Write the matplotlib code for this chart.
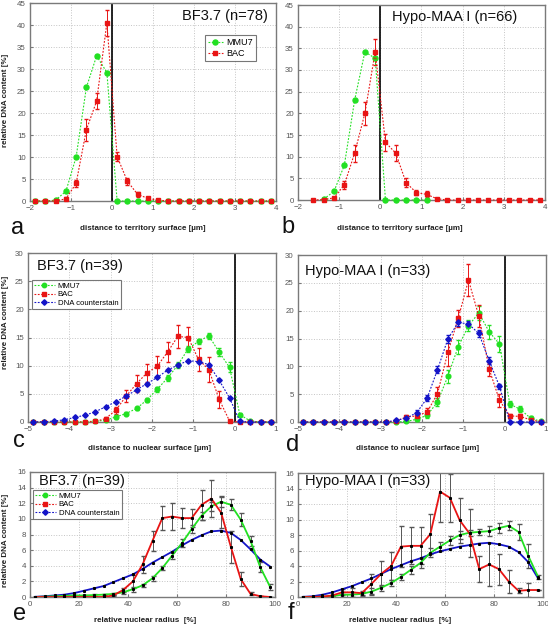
import numpy as np
import matplotlib
matplotlib.use("Agg")
import matplotlib.pyplot as plt
from matplotlib.lines import Line2D

plt.rcParams['font.family'] = ['Liberation Sans', 'DejaVu Sans']

W, H = 548, 625

# ---- data ----
# a: distance to territory surface, BF3.7 (n=78)
dist_a = [-1.875, -1.625, -1.375, -1.125, -0.875, -0.625, -0.375, -0.125,
          0.125, 0.375, 0.625, 0.875, 1.125, 1.375, 1.625, 1.875,
          2.125, 2.375, 2.625, 2.875, 3.125, 3.375, 3.625, 3.875]
mmu7_a = [0, 0, 0.2, 2.2, 10, 25.8, 33, 29.2, 0, 0, 0, 0,
          0, 0, 0, 0, 0, 0, 0, 0, 0, 0, 0, 0]
bac_a = [0, 0, 0, 0.5, 4, 16.2, 22.7, 40.5, 10.1, 4.5, 1.5, 0.6,
         0.2, 0, 0, 0, 0, 0, 0, 0, 0, 0, 0, 0]
bac_a_err = [0, 0, 0, 0.3, 0.8, 2.5, 1.8, 3.0, 1.0, 0.8, 0.5, 0.3,
             0.1, 0, 0, 0, 0, 0, 0, 0, 0, 0, 0, 0]

# b: distance to territory surface, Hypo-MAA I (n=66)
dist_b = [-1.625, -1.375, -1.125, -0.875, -0.625, -0.375, -0.125,
          0.125, 0.375, 0.625, 0.875, 1.125, 1.375, 1.625, 1.875,
          2.125, 2.375, 2.625, 2.875, 3.125, 3.375, 3.625, 3.875]
mmu7_b = [np.nan, 0.2, 2.0, 8.0, 23.0, 34.2, 32.7, 0, 0, 0, 0, 0,
          np.nan, np.nan, np.nan, np.nan, np.nan, np.nan, np.nan, np.nan, np.nan, np.nan, np.nan]
bac_b = [0, 0.1, 0.5, 3.5, 10.8, 20.0, 34.2, 13.3, 10.8, 4.0, 1.7, 1.3,
         0.3, 0, 0, 0, 0, 0, 0, 0, 0, 0, 0]
bac_b_err = [0, 0, 0.3, 1.0, 2.0, 2.7, 3.0, 2.0, 1.8, 1.0, 0.6, 0.7,
             0.2, 0, 0, 0, 0, 0, 0, 0, 0, 0, 0]

# c, d: distance to nuclear surface
dist_cd = [-4.875, -4.625, -4.375, -4.125, -3.875, -3.625, -3.375, -3.125,
           -2.875, -2.625, -2.375, -2.125, -1.875, -1.625, -1.375, -1.125,
           -0.875, -0.625, -0.375, -0.125, 0.125, 0.375, 0.625, 0.875]
mmu7_c = [0, 0, 0, 0, 0, 0.05, 0.15, 0.3, 0.9, 1.5, 2.4, 3.9,
          5.8, 7.8, 10.1, 13.0, 14.3, 15.3, 12.4, 9.7, 1.3, 0.2, 0, 0]
mmu7_c_err = [0, 0, 0, 0, 0, 0, 0, 0.1, 0.3, 0.3, 0.3, 0.4,
              0.4, 0.5, 0.5, 0.5, 0.5, 0.5, 0.7, 0.9, 0.3, 0.1, 0, 0]
bac_c = [0, 0, 0, 0, 0, 0, 0.1, 0.6, 2.1, 4.6, 6.8, 8.7,
         9.9, 12.4, 15.2, 15.0, 11.1, 9.3, 4.0, 0.2, 0, 0, 0, 0]
bac_c_err = [0, 0, 0, 0, 0, 0, 0.1, 0.3, 0.6, 1.0, 1.5, 1.6,
             1.8, 1.8, 2.0, 1.8, 2.0, 2.2, 1.5, 0.2, 0, 0, 0, 0]
dna_c = [0, 0.05, 0.15, 0.4, 0.8, 1.2, 1.8, 2.7, 3.6, 4.6, 5.7, 6.8,
         7.9, 9.2, 10.1, 10.9, 10.7, 10.2, 7.4, 4.3, 0.1, 0, 0, 0]

mmu7_d = [0, 0, 0, 0, 0, 0, 0, 0, 0, 0, 0.1, 0.5,
          1.2, 3.6, 8.2, 13.5, 17.3, 19.6, 16.2, 14.0, 3.2, 2.3, 0.7, 0.1]
mmu7_d_err = [0, 0, 0, 0, 0, 0, 0, 0, 0, 0, 0.1, 0.3,
              0.5, 0.8, 1.2, 1.2, 1.0, 1.3, 1.2, 1.5, 0.5, 0.5, 0.3, 0.1]
bac_d = [0, 0, 0, 0, 0, 0, 0, 0, 0, 0.2, 0.9, 1.1,
         1.8, 5.1, 12.5, 18.6, 25.5, 19.0, 9.5, 3.9, 1.1, 1.0, 0.4, 0]
bac_d_err = [0, 0, 0, 0, 0, 0, 0, 0, 0, 0.2, 0.4, 0.5,
             0.8, 1.2, 2.5, 1.5, 2.8, 2.0, 1.3, 1.2, 0.4, 0.4, 0.2, 0]
dna_d = [0, 0, 0, 0, 0, 0, 0, 0, 0, 0.3, 0.7, 1.7,
         4.3, 9.4, 14.9, 17.9, 17.6, 15.9, 11.0, 6.4, 0, 0, 0, 0]
dna_d_err = [0, 0, 0, 0, 0, 0, 0, 0, 0, 0.1, 0.2, 0.4,
             0.5, 0.6, 0.7, 0.6, 0.6, 0.6, 0.6, 0.5, 0, 0, 0, 0]

# e, f: relative nuclear radius
radius = [2, 6, 10, 14, 18, 22, 26, 30, 34, 38, 42, 46, 50,
          54, 58, 62, 66, 70, 74, 78, 82, 86, 90, 94, 98]
mmu7_e = [0, 0.05, 0.1, 0.15, 0.2, 0.2, 0.25, 0.3, 0.4, 0.6, 1.0, 1.5, 2.4,
          3.7, 5.3, 6.9, 8.7, 10.4, 11.6, 12.2, 11.8, 9.9, 7.2, 3.8, 1.3]
mmu7_e_err = [0, 0, 0, 0.05, 0.1, 0.1, 0.1, 0.1, 0.15, 0.2, 0.3, 0.2, 0.3,
              0.3, 0.4, 0.5, 0.5, 0.5, 0.6, 0.7, 0.7, 0.8, 0.65, 0.65, 0.35]
bac_e = [0, 0, 0, 0, 0, 0, 0, 0, 0.2, 0.9, 2.0, 4.2, 7.2,
         10.1, 10.3, 10.1, 10.1, 11.8, 12.6, 10.8, 6.4, 2.3, 0.4, 0.1, 0]
bac_e_err = [0, 0, 0, 0, 0, 0, 0, 0, 0.1, 0.3, 0.8, 1.1, 1.3,
             1.5, 1.7, 1.3, 1.2, 1.9, 2.4, 2.0, 2.0, 0.85, 0.2, 0, 0]
dna_e = [0.02, 0.1, 0.2, 0.3, 0.5, 0.8, 1.1, 1.4, 1.9, 2.4, 2.9, 3.6, 4.4,
         5.1, 5.8, 6.6, 7.3, 7.9, 8.4, 8.5, 8.2, 7.3, 6.1, 4.8, 3.9]

mmu7_f = [0, 0, 0.05, 0.1, 0.3, 0.3, 0.4, 0.7, 1.2, 1.8, 2.6, 3.5, 4.4,
          5.7, 6.5, 7.3, 8.0, 8.3, 8.4, 8.5, 8.9, 9.2, 8.4, 5.3, 2.6]
mmu7_f_err = [0, 0, 0, 0.05, 0.3, 0.3, 0.3, 0.4, 0.4, 0.4, 0.4, 0.5, 0.6,
              0.6, 0.6, 0.6, 0.5, 0.4, 0.4, 0.6, 0.6, 0.6, 1.0, 1.5, 0.3]
bac_f = [0, 0, 0.05, 0.2, 0.6, 0.6, 0.5, 1.7, 3.0, 4.0, 6.5, 6.6, 6.6,
         8.1, 13.6, 12.8, 9.9, 8.2, 3.6, 4.2, 3.6, 2.0, 0.8, 0.9, 0.9]
bac_f_err = [0, 0, 0, 0.1, 0.4, 0.6, 0.3, 1.3, 1.6, 1.8, 2.6, 2.4, 2.4,
             2.6, 3.9, 3.1, 2.9, 3.1, 1.7, 2.8, 2.0, 1.5, 0.3, 0.9, 0]
dna_f = [0.02, 0.1, 0.3, 0.6, 1.0, 1.4, 1.9, 2.4, 3.0, 3.6, 4.1, 4.6, 5.0,
         5.5, 5.9, 6.2, 6.5, 6.7, 6.9, 7.0, 6.8, 6.5, 5.8, 4.5, 2.4]

GREEN = '#22e022'
RED = '#e81414'
BLUE = '#1414c8'
DOTS = (0, (1.6, 1.4))


def ax_px(l, t, r, b):
    return fig.add_axes([l / W, 1 - b / H, (r - l) / W, (b - t) / H])


def ftext(x, y, s, **kw):
    fig.text(x / W, 1 - y / H, s, **kw)


def style(ax, xlim, xticks, ylim, yticks):
    ax.set_xlim(*xlim)
    ax.set_ylim(*ylim)
    ax.set_xticks(xticks)
    ax.set_yticks(yticks)
    ax.grid(True, color='#c4c4c4', ls=':', lw=0.7)
    ax.set_axisbelow(True)
    for s in ax.spines.values():
        s.set_color('#7a7a7a')
        s.set_linewidth(1.0)
    ax.tick_params(labelsize=5.7, labelcolor='#555555', direction='in',
                   length=2.5, color='#7a7a7a', pad=3)


def dotted(ax, x, y, err, color, marker, ms):
    ax.errorbar(x, y, yerr=err, color=color, ls=DOTS, lw=0.8, marker=marker,
                ms=ms, mec=color, mfc=color, capsize=1.5, elinewidth=0.7,
                clip_on=False, zorder=3)


def solid(ax, x, y, err, color):
    ax.plot(x, y, color=color, lw=1.3, zorder=3)
    ax.plot(x, y, ls='none', marker='s', ms=1.2, mfc='k', mec='k', zorder=4)
    if err is not None:
        ax.errorbar(x, y, yerr=err, fmt='none', ecolor='#555555',
                    elinewidth=0.7, capsize=1.8, zorder=2)


fig = plt.figure(figsize=(W / 100, H / 100), dpi=100)

# ---- a ----
ax = ax_px(30, 3, 276, 201)
style(ax, (-2, 4), range(-2, 5), (0, 45), range(0, 46, 5))
dotted(ax, dist_a, mmu7_a, None, GREEN, 'o', 3.6)
dotted(ax, dist_a, bac_a, bac_a_err, RED, 's', 3.4)
ax.axvline(0, color='k', lw=1.2, zorder=2)
ax.legend(handles=[Line2D([], [], color=GREEN, ls=DOTS, lw=0.8, marker='o', ms=3.6),
                   Line2D([], [], color=RED, ls=DOTS, lw=0.8, marker='s', ms=3.4)],
          labels=['MMU7', 'BAC'], loc='upper left',
          bbox_to_anchor=(205 / W, 1 - 35 / H), bbox_transform=fig.transFigure,
          fontsize=6.5, frameon=True, fancybox=False, edgecolor='#555555',
          handlelength=1.6, handletextpad=0.4, borderpad=0.35, labelspacing=0.2,
          borderaxespad=0)
ax.get_legend().get_frame().set_linewidth(0.8)

# ---- b ----
ax = ax_px(298, 5, 545, 200)
style(ax, (-2, 4), range(-2, 5), (0, 45), range(0, 46, 5))
dotted(ax, dist_b, mmu7_b, None, GREEN, 'o', 3.6)
dotted(ax, dist_b, bac_b, bac_b_err, RED, 's', 3.4)
ax.axvline(0, color='k', lw=1.2, zorder=2)

# ---- c ----
ax = ax_px(28, 253, 276, 422)
style(ax, (-5, 1), range(-5, 2), (0, 30), range(0, 31, 5))
dotted(ax, dist_cd, mmu7_c, mmu7_c_err, GREEN, 'o', 3.4)
dotted(ax, dist_cd, bac_c, bac_c_err, RED, 's', 3.0)
dotted(ax, dist_cd, dna_c, None, BLUE, 'D', 2.8)
ax.axvline(0, color='k', lw=1.2, zorder=2)
leg_handles = [Line2D([], [], color=GREEN, ls=DOTS, lw=0.8, marker='o', ms=3.2),
               Line2D([], [], color=RED, ls=DOTS, lw=0.8, marker='s', ms=3.0),
               Line2D([], [], color=BLUE, ls=DOTS, lw=0.8, marker='D', ms=2.8)]
leg_labels = ['MMU7', 'BAC', 'DNA counterstain']
lg = ax.legend(handles=leg_handles, labels=leg_labels, loc='upper left',
               bbox_to_anchor=(32 / W, 1 - 280 / H), bbox_transform=fig.transFigure,
               fontsize=5.6, frameon=True, fancybox=False, edgecolor='#555555',
               handlelength=2.6, handletextpad=0.4, borderpad=0.3, labelspacing=0.15,
               borderaxespad=0)
lg.get_frame().set_linewidth(0.8)

# ---- d ----
ax = ax_px(298, 255, 546, 422)
style(ax, (-5, 1), range(-5, 2), (0, 30), range(0, 31, 5))
dotted(ax, dist_cd, mmu7_d, mmu7_d_err, GREEN, 'o', 3.4)
dotted(ax, dist_cd, bac_d, bac_d_err, RED, 's', 3.0)
dotted(ax, dist_cd, dna_d, dna_d_err, BLUE, 'D', 2.8)
ax.axvline(0, color='k', lw=1.2, zorder=2)

# ---- e ----
ax = ax_px(30, 472, 275, 597)
style(ax, (0, 100), range(0, 101, 20), (0, 16), range(0, 17, 2))
solid(ax, radius, dna_e, None, BLUE)
solid(ax, radius, mmu7_e, mmu7_e_err, GREEN)
solid(ax, radius, bac_e, bac_e_err, RED)
lg = ax.legend(handles=leg_handles, labels=leg_labels, loc='upper left',
               bbox_to_anchor=(33 / W, 1 - 490 / H), bbox_transform=fig.transFigure,
               fontsize=5.6, frameon=True, fancybox=False, edgecolor='#555555',
               handlelength=2.6, handletextpad=0.4, borderpad=0.3, labelspacing=0.15,
               borderaxespad=0)
lg.get_frame().set_linewidth(0.8)

# ---- f ----
ax = ax_px(298, 473, 543, 597)
style(ax, (0, 100), range(0, 101, 20), (0, 16), range(0, 17, 2))
solid(ax, radius, dna_f, None, BLUE)
solid(ax, radius, mmu7_f, mmu7_f_err, GREEN)
solid(ax, radius, bac_f, bac_f_err, RED)

# ---- titles ----
tkw = dict(fontsize=10.5, color='#111111', va='center')
ftext(268, 16, 'BF3.7 (n=78)', ha='right', **tkw)
ftext(455, 17, 'Hypo-MAA I (n=66)', ha='center', **tkw)
ftext(37, 266, 'BF3.7 (n=39)', ha='left', **tkw)
ftext(305, 271, 'Hypo-MAA I (n=33)', ha='left', **tkw)
ftext(39, 481, 'BF3.7 (n=39)', ha='left', **tkw)
ftext(305, 481, 'Hypo-MAA I (n=33)', ha='left', **tkw)

# ---- axis labels ----
lkw = dict(fontsize=5.8, fontweight='bold', color='#222222', va='center', ha='center')
ftext(143, 228, 'distance to territory surface [µm]', **lkw)
ftext(400, 228, 'distance to territory surface [µm]', **lkw)
ftext(150, 448, 'distance to nuclear surface [µm]', **lkw)
ftext(418, 448, 'distance to nuclear surface [µm]', **lkw)
ftext(145, 620, 'relative nuclear radius  [%]', **lkw)
ftext(400, 620, 'relative nuclear radius  [%]', **lkw)
ftext(6, 100, 'relative DNA content [%]', rotation=90, **lkw)
ftext(6, 322, 'relative DNA content [%]', rotation=90, **lkw)
ftext(6, 540, 'relative DNA content [%]', rotation=90, **lkw)

# ---- panel letters ----
pkw = dict(fontsize=17, color='#111111', va='baseline', ha='left')
ftext(11, 234, 'a', **pkw)
ftext(281, 233, 'b', **pkw)
ftext(13, 447, 'c', **pkw)
ftext(286, 451, 'd', **pkw)
ftext(13, 620, 'e', **pkw)
ftext(288, 619, 'f', **pkw)

fig.savefig('out.png', dpi=100)
